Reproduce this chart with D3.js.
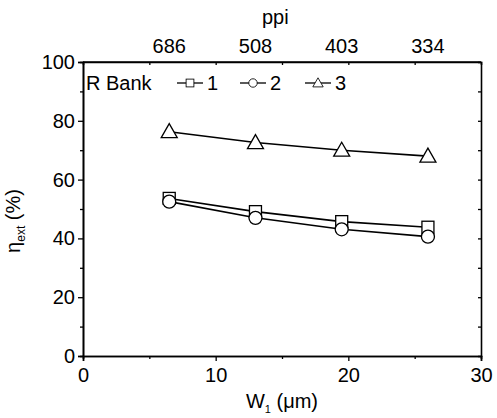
<!DOCTYPE html>
<html>
<head>
<meta charset="utf-8">
<script src="https://cdn.jsdelivr.net/npm/d3@7"></script>
<style>
  body { margin: 0; background: #fff; }
  svg { font-family: "Liberation Sans", Arial, sans-serif; }
</style>
</head>
<body>
<svg id="chart" width="497" height="418"></svg>
<script>
// data
var widths = [6.5, 13, 19.5, 26];          // W1 (um)
var ppiLabels = ["686", "508", "403", "334"];
var bank1 = [53.6, 49.1, 45.7, 43.8];      // squares
var bank2 = [52.5, 47.0, 43.1, 40.6];      // circles
var bank3 = [76.3, 72.6, 70.0, 68.0];      // triangles
var seriesNames = ["1", "2", "3"];
var xTicks = [0, 10, 20, 30];
var yTicks = [0, 20, 40, 60, 80, 100];

var fs = 20;

var margin = {top: 62, right: 16, bottom: 62, left: 83},
    width = 497 - margin.left - margin.right,
    height = 418 - margin.top - margin.bottom;

var svg = d3.select("#chart")
  .append("g")
  .attr("transform", "translate(" + margin.left + "," + margin.top + ")");

var x = d3.scaleLinear().domain([0, 30]).range([0, width]);
var y = d3.scaleLinear().domain([0, 100]).range([height, 0]);

// axes
function styleAxis(g) {
  g.select(".domain").attr("stroke", "#000").attr("stroke-width", 1.6);
  g.selectAll(".tick line").attr("stroke", "#000").attr("stroke-width", 1.3);
  g.selectAll(".tick text").attr("font-size", fs).attr("fill", "#000")
    .attr("font-family", "Liberation Sans, Arial, sans-serif");
}

// minor ticks
svg.append("g")
  .attr("transform", "translate(0," + height + ")")
  .call(d3.axisBottom(x).tickValues([5, 15, 25]).tickSize(3).tickFormat(""))
  .call(styleAxis);
svg.append("g")
  .call(d3.axisLeft(y).tickValues([10, 30, 50, 70, 90]).tickSize(3).tickFormat(""))
  .call(styleAxis);
svg.append("g")
  .call(d3.axisBottom(x).tickValues([5, 10, 15, 20, 25]).tickSize(3).tickFormat(""))
  .call(styleAxis);
svg.append("g")
  .attr("transform", "translate(" + width + ",0)")
  .call(d3.axisLeft(y).tickValues([10, 20, 30, 40, 50, 60, 70, 80, 90]).tickSize(3).tickFormat(""))
  .call(styleAxis);

// major ticks
svg.append("g")
  .attr("transform", "translate(0," + height + ")")
  .call(d3.axisBottom(x).tickValues(xTicks).tickSize(5).tickPadding(7))
  .call(styleAxis);
svg.append("g")
  .call(d3.axisLeft(y).tickValues(yTicks).tickSize(5).tickPadding(3))
  .call(styleAxis);

// top line
svg.append("line")
  .attr("x1", 0).attr("x2", width).attr("y1", 0).attr("y2", 0)
  .attr("stroke", "#000").attr("stroke-width", 1.6);

// top ppi labels
svg.append("g").selectAll("text")
  .data(widths)
  .join("text")
  .attr("x", function (d) { return x(d); })
  .attr("y", -9)
  .attr("text-anchor", "middle")
  .attr("font-size", fs)
  .text(function (d, i) { return ppiLabels[i]; });

svg.append("text")
  .attr("x", x(14.5))
  .attr("y", -38)
  .attr("text-anchor", "middle")
  .attr("font-size", fs)
  .text("ppi");

// lines
var series = [
  {name: seriesNames[0], values: bank1, shape: "square"},
  {name: seriesNames[1], values: bank2, shape: "circle"},
  {name: seriesNames[2], values: bank3, shape: "triangle"}
];

var line = d3.line()
  .x(function (d, i) { return x(widths[i]); })
  .y(function (d) { return y(d); });

function marker(sel, shape) {
  if (shape === "square") {
    sel.append("rect").attr("x", -6).attr("y", -6).attr("width", 12).attr("height", 12);
  } else if (shape === "circle") {
    sel.append("circle").attr("r", 6.5);
  } else {
    sel.append("path").attr("d", "M0,-8L8,6L-8,6Z");
  }
  sel.selectAll("rect,circle,path")
    .attr("fill", "#fff").attr("stroke", "#000").attr("stroke-width", 1.3);
}

series.forEach(function (s) {
  svg.append("path")
    .datum(s.values)
    .attr("fill", "none")
    .attr("stroke", "#000")
    .attr("stroke-width", 1.6)
    .attr("d", line);
});

series.forEach(function (s) {
  s.values.forEach(function (v, i) {
    var g = svg.append("g")
      .attr("transform", "translate(" + x(widths[i]) + "," + y(v) + ")");
    marker(g, s.shape);
  });
});

// legend
var legend = svg.append("g").attr("transform", "translate(3,28)");
legend.append("text")
  .attr("x", 0).attr("y", 0)
  .attr("font-size", fs)
  .text("R Bank");
var legendX = [104, 167, 232];
series.forEach(function (s, i) {
  var g = legend.append("g").attr("transform", "translate(" + legendX[i] + ",-7)");
  g.append("line").attr("x1", -13).attr("x2", 13)
    .attr("stroke", "#000").attr("stroke-width", 1.3);
  var m = g.append("g").attr("transform", "scale(0.65)");
  marker(m, s.shape);
  legend.append("text")
    .attr("x", legendX[i] + 17).attr("y", 0)
    .attr("font-size", fs)
    .text(s.name);
});

// axis titles
var xt = svg.append("text")
  .attr("x", width / 2)
  .attr("y", height + 52)
  .attr("text-anchor", "middle")
  .attr("font-size", fs);
xt.append("tspan").text("W");
xt.append("tspan").attr("font-size", 11).attr("dy", 5).text("1");
xt.append("tspan").attr("dy", -5).text(" (\u03bcm)");

var yt = svg.append("text")
  .attr("transform", "translate(" + (-63) + "," + (height / 2 + 12) + ") rotate(-90)")
  .attr("text-anchor", "middle")
  .attr("font-size", fs);
yt.append("tspan").text("\u03b7");
yt.append("tspan").attr("font-size", 12).attr("dy", 5).text("ext");
yt.append("tspan").attr("dy", -5).text(" (%)");
</script>
</body>
</html>
